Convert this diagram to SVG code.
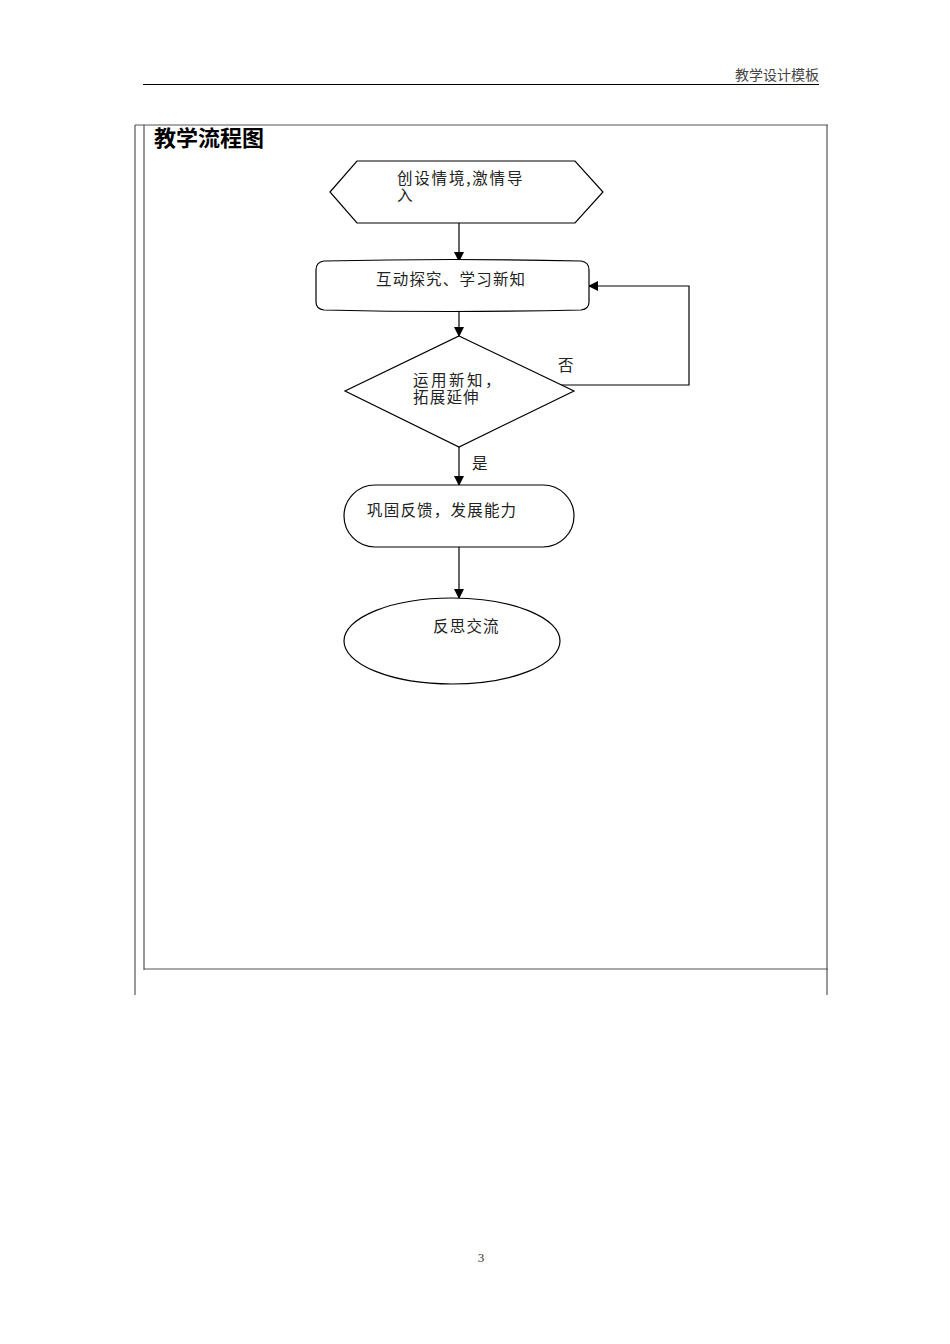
<svg xmlns="http://www.w3.org/2000/svg" width="950" height="1344" viewBox="0 0 950 1344">
<style>
.t{font-family:"Noto Sans CJK SC",sans-serif;font-size:15.5px;letter-spacing:1.2px;fill:#222}
.s{fill:#fff;stroke:#000;stroke-width:1.2}
.b{stroke:#555;stroke-width:1.2;fill:none}
.c{stroke:#000;stroke-width:1.2;fill:none}
</style>
<defs>
<marker id="a" markerWidth="10" markerHeight="10" refX="9" refY="5" orient="auto" markerUnits="userSpaceOnUse">
<path d="M0,0 L10,5 L0,10 Z" fill="#000"/>
</marker>
</defs>
<rect width="950" height="1344" fill="#fff"/>
<g id="page">
<text x="819" y="80" text-anchor="end" style="font-family:'Noto Sans CJK SC',sans-serif;font-size:14px;fill:#444">教学设计模板</text>
<line x1="143" y1="84.5" x2="819" y2="84.5" stroke="#000" stroke-width="1.2"/>
<line class="b" x1="135" y1="125" x2="135" y2="995"/>
<line class="b" x1="144" y1="125" x2="144" y2="970"/>
<line class="b" x1="135" y1="125" x2="828" y2="125"/>
<line class="b" x1="827" y1="125" x2="827" y2="995"/>
<line class="b" x1="144" y1="969" x2="828" y2="969"/>
<text x="154" y="146" style="font-family:'Noto Sans CJK SC',sans-serif;font-size:22px;font-weight:bold;fill:#000">教学流程图</text>
<text x="481" y="1262" text-anchor="middle" style="font-family:'Liberation Serif',serif;font-size:13px;fill:#333">3</text>
</g>
<g id="connectors">
<line class="c" x1="459" y1="223" x2="459" y2="261" marker-end="url(#a)"/>
<line class="c" x1="459" y1="310" x2="459" y2="336" marker-end="url(#a)"/>
<polyline class="c" points="561,385 689,385 689,286 589,286" marker-end="url(#a)"/>
<line class="c" x1="459" y1="447" x2="459" y2="485" marker-end="url(#a)"/>
<line class="c" x1="459" y1="547" x2="459" y2="598" marker-end="url(#a)"/>
<text class="t" x="558" y="371">否</text>
<text class="t" x="472" y="469">是</text>
</g>
<g id="n1">
<polygon class="s" points="330,192 357,161 575,161 603,192 575,223 357,223"/>
<text class="t" x="397" y="184" style="letter-spacing:1.8px">创设情境,激情导</text>
<text class="t" x="397" y="201">入</text>
</g>
<g id="n2">
<path class="s" d="M324,261 Q452,258 581,261 Q589,262 589,270 L589,302 Q589,309 581,310 Q452,313 324,310 Q316,309 316,302 L316,270 Q316,262 324,261 Z"/>
<text class="t" x="376" y="285">互动探究、学习新知</text>
</g>
<g id="n3">
<polygon class="s" points="459,336 574,391 459,447 345,391"/>
<text class="t" x="413" y="386" style="letter-spacing:2.5px">运用新知，</text>
<text class="t" x="413" y="403">拓展延伸</text>
</g>
<g id="n4">
<rect class="s" x="344" y="485" width="230" height="62" rx="31"/>
<text class="t" x="367" y="516">巩固反馈，发展能力</text>
</g>
<g id="n5">
<ellipse class="s" cx="452" cy="641" rx="108" ry="43"/>
<text class="t" x="433" y="632">反思交流</text>
</g>
</svg>
